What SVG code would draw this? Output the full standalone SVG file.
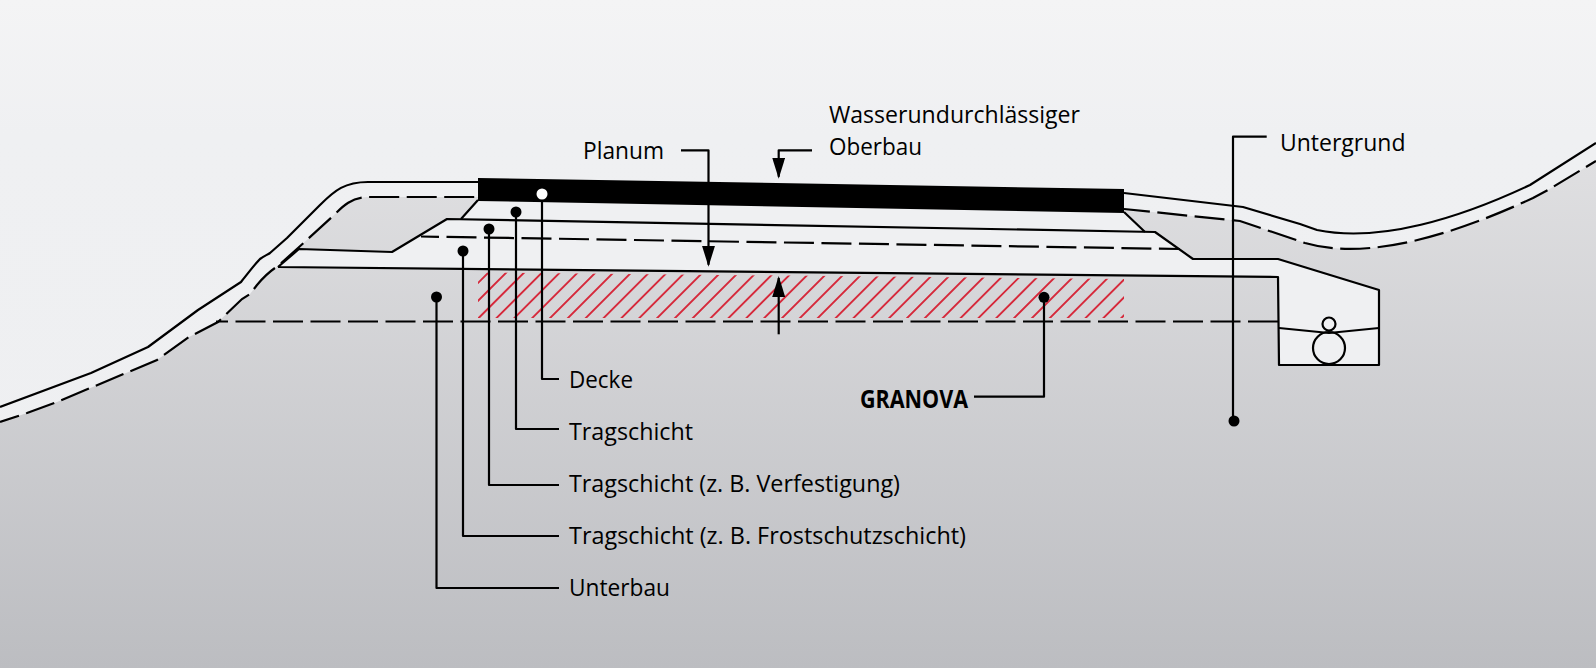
<svg xmlns="http://www.w3.org/2000/svg" width="1596" height="668" viewBox="0 0 1596 668">
<style>
.l{fill:none;stroke:#000;stroke-width:2.2;stroke-linejoin:round}
.d{fill:none;stroke:#000;stroke-width:2.2;stroke-dasharray:30 7.5}
.h{fill:none;stroke:#d6293b;stroke-width:1.9}
.t{font-family:"Open Sans","Noto Sans","Liberation Sans",sans-serif;font-size:24.5px;fill:#000}
.b{font-weight:700}
.dot{fill:#000}
.wdot{fill:#fff}
.arrow{marker-end:url(#ah)}
</style>
<defs>
<linearGradient id="bg" x1="0" y1="0" x2="0" y2="1"><stop offset="0" stop-color="#f4f4f5"/><stop offset="0.2" stop-color="#eff0f2"/><stop offset="1" stop-color="#eeeff1"/></linearGradient>
<linearGradient id="gr" gradientUnits="userSpaceOnUse" x1="0" y1="150" x2="0" y2="668"><stop offset="0" stop-color="#e0e0e2"/><stop offset="1" stop-color="#bcbdc1"/></linearGradient>
<marker id="ah" markerUnits="userSpaceOnUse" markerWidth="22" markerHeight="14" refX="19" refY="6.5" orient="auto"><path d="M0 0L21 6.5L0 13Z" fill="#000"/></marker>
<clipPath id="hc"><polygon points="478,272.5 1124,279 1124,318 478,318"/></clipPath>
</defs>
<rect id="background" width="1596" height="668" fill="url(#bg)"/>
<g id="ground">
<path d="M0 422L27 413L57 402L157 360L189 337L218 322L242 299L250 294L257 285C262 279 267 273 278 266L298 248L332 217C345 204 352 197 371 197L478 197L1124 209L1240 221L1305 243C1370 262 1460 232 1533 198L1548 190L1596 161L1596 668L0 668Z" fill="url(#gr)"/>
</g>
<g id="pavement-layers">
<polygon points="278,267 299,249 392,252 447,219 461,219 478,200 1124,212 1145,232 1155,232 1193,259 1278,259 1379,290 1379,365 1279,365 1278,277" fill="#eff0f2"/>
</g>
<g id="granova-hatch" clip-path="url(#hc)">
<path class="h" d="M431 330L501 260M448.85 330L518.85 260M466.7 330L536.7 260M484.55 330L554.55 260M502.4 330L572.4 260M520.25 330L590.25 260M538.1 330L608.1 260M555.95 330L625.95 260M573.8 330L643.8 260M591.65 330L661.65 260M609.5 330L679.5 260M627.35 330L697.35 260M645.2 330L715.2 260M663.05 330L733.05 260M680.9 330L750.9 260M698.75 330L768.75 260M716.6 330L786.6 260M734.45 330L804.45 260M752.3 330L822.3 260M770.15 330L840.15 260M788 330L858 260M805.85 330L875.85 260M823.7 330L893.7 260M841.55 330L911.55 260M859.4 330L929.4 260M877.25 330L947.25 260M895.1 330L965.1 260M912.95 330L982.95 260M930.8 330L1000.8 260M948.65 330L1018.65 260M966.5 330L1036.5 260M984.35 330L1054.35 260M1002.2 330L1072.2 260M1020.05 330L1090.05 260M1037.9 330L1107.9 260M1055.75 330L1125.75 260M1073.6 330L1143.6 260M1091.45 330L1161.45 260M1109.3 330L1179.3 260"/>
</g>
<g id="surface-lines">
<path class="l" d="M0 407L91 373L148 347L198 310L241 282C246 276 254 265 260 259C264 256 267 255 270 253L287 238L320 205C335 190 345 182 368 182L478 182"/>
<path class="l" d="M1124 193L1243 207L1300 224L1317 230C1380 243 1460 218 1530 185L1596 143"/>
<path class="d" stroke-dashoffset="10" d="M0 422L27 413L57 402L157 360L189 337L218 322L242 299L250 294L257 285C262 279 267 273 278 266L298 248L332 217C345 204 352 197 371 197L478 197"/>
<path class="d" stroke-dashoffset="4" d="M1124 209L1240 221L1305 243C1370 262 1460 232 1533 198L1548 190L1596 161"/>
<path class="l" d="M278 267L299 249L392 252L447 219L1155 232L1193 259L1278 259L1379 290L1379 365L1279 365L1278 277L278 267"/>
<path class="l" d="M478 200L461 219M1124 212L1145 232"/>
<path class="d" stroke-dashoffset="12" d="M421 236.5L1180 249"/>
<path class="d" stroke-dashoffset="18" d="M216 321.5L1279 321.5"/>
<path class="l" d="M1279 328L1329 333L1379 328"/>
<circle class="l" cx="1329" cy="324" r="6.5"/>
<circle class="l" cx="1329" cy="348" r="16"/>
</g>
<polygon id="wasserundurchlaessiger-oberbau-slab" points="478,178 1124,189 1124,213 478,201" fill="#000"/>
<g id="connectors">
<path class="l" d="M542 194V379H559"/>
<path class="l" d="M516 212V429H559"/>
<path class="l" d="M489 229V485H559"/>
<path class="l" d="M463 251V536H559"/>
<path class="l" d="M436.5 297V588H559"/>
<path class="l" d="M1044 297V396.7H974"/>
<path class="l" d="M1266.7 136.7H1233V421"/>
<path class="l arrow" d="M681 150.3H708.5V264.7"/>
<path class="l arrow" d="M812 150.3H778.7V176.7"/>
<path class="l arrow" d="M778.7 334.3V278"/>
</g>
<g id="decke"><circle class="wdot" cx="542" cy="194" r="5.5"/><text class="t" x="569" y="388" textLength="64" lengthAdjust="spacingAndGlyphs">Decke</text></g>
<g id="tragschicht"><circle class="dot" cx="516" cy="212" r="5.5"/><text class="t" x="569" y="440" textLength="124" lengthAdjust="spacingAndGlyphs">Tragschicht</text></g>
<g id="tragschicht-verfestigung"><circle class="dot" cx="489" cy="229" r="5.5"/><text class="t" x="569" y="492" textLength="331" lengthAdjust="spacingAndGlyphs">Tragschicht (z. B. Verfestigung)</text></g>
<g id="tragschicht-frostschutz"><circle class="dot" cx="463" cy="251" r="5.5"/><text class="t" x="569" y="544" textLength="397" lengthAdjust="spacingAndGlyphs">Tragschicht (z. B. Frostschutzschicht)</text></g>
<g id="unterbau"><circle class="dot" cx="436.5" cy="297" r="5.5"/><text class="t" x="569" y="596" textLength="101" lengthAdjust="spacingAndGlyphs">Unterbau</text></g>
<g id="granova"><circle class="dot" cx="1044" cy="297.3" r="5.5"/><text class="t b" x="860" y="408" textLength="108" lengthAdjust="spacingAndGlyphs">GRANOVA</text></g>
<g id="untergrund"><circle class="dot" cx="1234" cy="421" r="5.5"/><text class="t" x="1280" y="151" textLength="125.5" lengthAdjust="spacingAndGlyphs">Untergrund</text></g>
<g id="planum"><text class="t" x="583" y="159" textLength="81" lengthAdjust="spacingAndGlyphs">Planum</text></g>
<g id="oberbau"><text class="t" x="829" y="123" textLength="251" lengthAdjust="spacingAndGlyphs">Wasserundurchlässiger</text><text class="t" x="829" y="155" textLength="93" lengthAdjust="spacingAndGlyphs">Oberbau</text></g>
</svg>
